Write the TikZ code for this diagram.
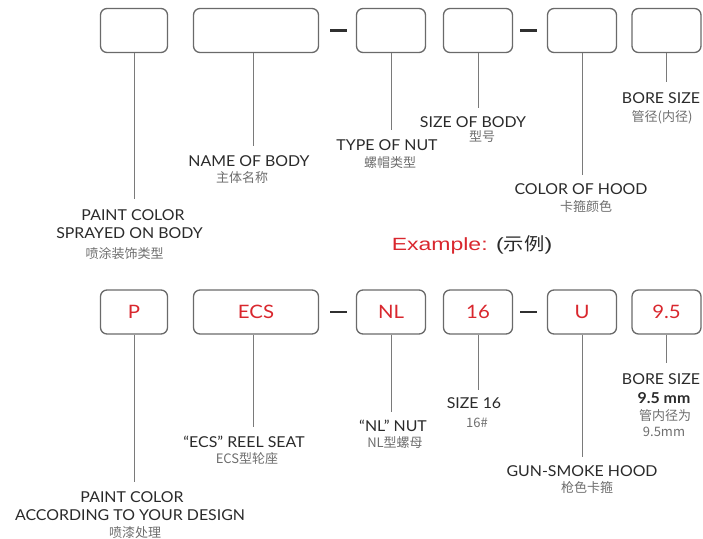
\documentclass[tikz,border=0pt]{standalone}
\usepackage{fontspec}
\setmainfont[FakeStretch=1.06]{Lato}
\newfontfamily\valfont[FakeStretch=1.1]{Lato}
\newfontfamily\cjk{Noto Sans CJK SC}
\newfontfamily\cjkex[FakeStretch=1.15]{Noto Sans CJK SC}
\newfontfamily\exfont[FakeStretch=1.3]{Liberation Sans}
\usetikzlibrary{calc}
\definecolor{boxc}{HTML}{6A6A6A}
\definecolor{linec}{HTML}{7A7A7A}
\definecolor{lblc}{HTML}{2A2A2A}
\definecolor{cnc}{HTML}{6E6E6E}
\definecolor{redc}{HTML}{D9272E}
\definecolor{dashc}{HTML}{303030}
\begin{document}
\begin{tikzpicture}[x=1pt,y=-1pt,
  box/.style={draw=boxc, line width=1.3pt, rounded corners=6.5pt, minimum width=#1, minimum height=44pt, inner sep=0pt},
  box/.default=69pt,
  lbl/.style={anchor=base, text=lblc, inner sep=0pt, font=\fontsize{15}{17}\selectfont},
  lblb/.style={anchor=base, text=lblc, inner sep=0pt, font=\bfseries\fontsize{15}{17}\selectfont},
  cn/.style={anchor=base, text=cnc, inner sep=0pt, font=\cjk\fontsize{13}{15}\selectfont},
  val/.style={text=redc, font=\valfont\fontsize{18.5}{21}\selectfont},
  conn/.style={draw=linec, line width=0.9pt},
  dashbar/.style={draw=dashc, line width=2.6pt}]
\useasboundingbox (0,0) rectangle (703,538);

% ---------- top row ----------
\node[box=67pt] (b1) at (134,30.5) {};
\node[box=125pt] (b2) at (256,30.5) {};
\node[box] (b3) at (391,30.5) {};
\node[box] (b4) at (478,30.5) {};
\node[box] (b5) at (582,30.5) {};
\node[box] (b6) at (666.5,30.5) {};

\draw[dashbar] ($(b2.east)+(11,0)$) -- ($(b3.west)+(-9,0)$);
\draw[dashbar] ($(b4.east)+(7,0)$) -- ($(b5.west)+(-10,0)$);

\coordinate (e1) at (134,199);
\coordinate (e2) at (253,146);
\coordinate (e3) at (391,130);
\coordinate (e4) at (478,108);
\coordinate (e5) at (582,175);
\coordinate (e6) at (666,82);
\draw[conn] (b1.south -| e1) -- (e1);
\draw[conn] (b2.south -| e2) -- (e2);
\draw[conn] (b3.south -| e3) -- (e3);
\draw[conn] (b4.south -| e4) -- (e4);
\draw[conn] (b5.south -| e5) -- (e5);
\draw[conn] (b6.south -| e6) -- (e6);

\node[lbl] (t1a) at (133,220.5) {PAINT COLOR};
\node[lbl] (t1b) at (129.5,238.5) {SPRAYED ON BODY};
\node[cn]  (t1c) at (124.5,258.6) {喷涂装饰类型};
\node[lbl] (t2a) at (249,166.5) {NAME OF BODY};
\node[cn]  (t2b) at (242,182) {主体名称};
\node[lbl] (t3a) at (387,150.5) {TYPE OF NUT};
\node[cn]  (t3b) at (390,167.6) {螺帽类型};
\node[lbl] (t4a) at (473,127.5) {SIZE OF BODY};
\node[cn]  (t4b) at (482,141.6) {型号};
\node[lbl] (t5a) at (581,194.5) {COLOR OF HOOD};
\node[cn]  (t5b) at (586,211.6) {卡箍颜色};
\node[lbl] (t6a) at (661,103.5) {BORE SIZE};
\node[cn]  (t6b) at (662,121.6) {管径(内径)};

\node[anchor=base, inner sep=0pt, font=\exfont\fontsize{17.7}{20}\selectfont] (ex) at (472,250)
  {\textcolor{redc}{Example:} \textcolor{lblc}{(\cjkex 示例\exfont)}};

% ---------- bottom row ----------
\node[box=67pt, val] (c1) at (134,312) {P};
\node[box=125pt, val] (c2) at (256,312) {ECS};
\node[box, val] (c3) at (391,312) {NL};
\node[box, val] (c4) at (478,312) {16};
\node[box, val] (c5) at (582,312) {U};
\node[box, val] (c6) at (666.5,312) {9.5};

\draw[dashbar] ($(c2.east)+(11,0)$) -- ($(c3.west)+(-9,0)$);
\draw[dashbar] ($(c4.east)+(7,0)$) -- ($(c5.west)+(-10,0)$);

\coordinate (f1) at (134,482);
\coordinate (f2) at (253,427);
\coordinate (f3) at (391,412);
\coordinate (f4) at (478,390);
\coordinate (f5) at (582,457);
\coordinate (f6) at (666,363);
\draw[conn] (c1.south -| f1) -- (f1);
\draw[conn] (c2.south -| f2) -- (f2);
\draw[conn] (c3.south -| f3) -- (f3);
\draw[conn] (c4.south -| f4) -- (f4);
\draw[conn] (c5.south -| f5) -- (f5);
\draw[conn] (c6.south -| f6) -- (f6);

\node[lbl] (u1a) at (132,502.5) {PAINT COLOR};
\node[lbl] (u1b) at (130,520.5) {ACCORDING TO YOUR DESIGN};
\node[cn]  (u1c) at (135,537.6) {喷漆处理};
\node[lbl] (u2a) at (244,447.5) {“ECS” REEL SEAT};
\node[cn]  (u2b) at (247,463.6) {ECS型轮座};
\node[lbl] (u3a) at (393,431.5) {“NL” NUT};
\node[cn]  (u3b) at (395,447.6) {NL型螺母};
\node[lbl] (u4a) at (474,408.5) {SIZE 16};
\node[cn]  (u4b) at (477,427.6) {16\#};
\node[lbl] (u5a) at (582,476.5) {GUN-SMOKE HOOD};
\node[cn]  (u5b) at (587,492.6) {枪色卡箍};
\node[lbl] (u6a) at (661,384.5) {BORE SIZE};
\node[lblb] (u6b) at (664,403.5) {9.5 mm};
\node[cn]  (u6c) at (665,420.6) {管内径为};
\node[cn]  (u6d) at (664,436.6) {9.5mm};
\end{tikzpicture}
\end{document}
